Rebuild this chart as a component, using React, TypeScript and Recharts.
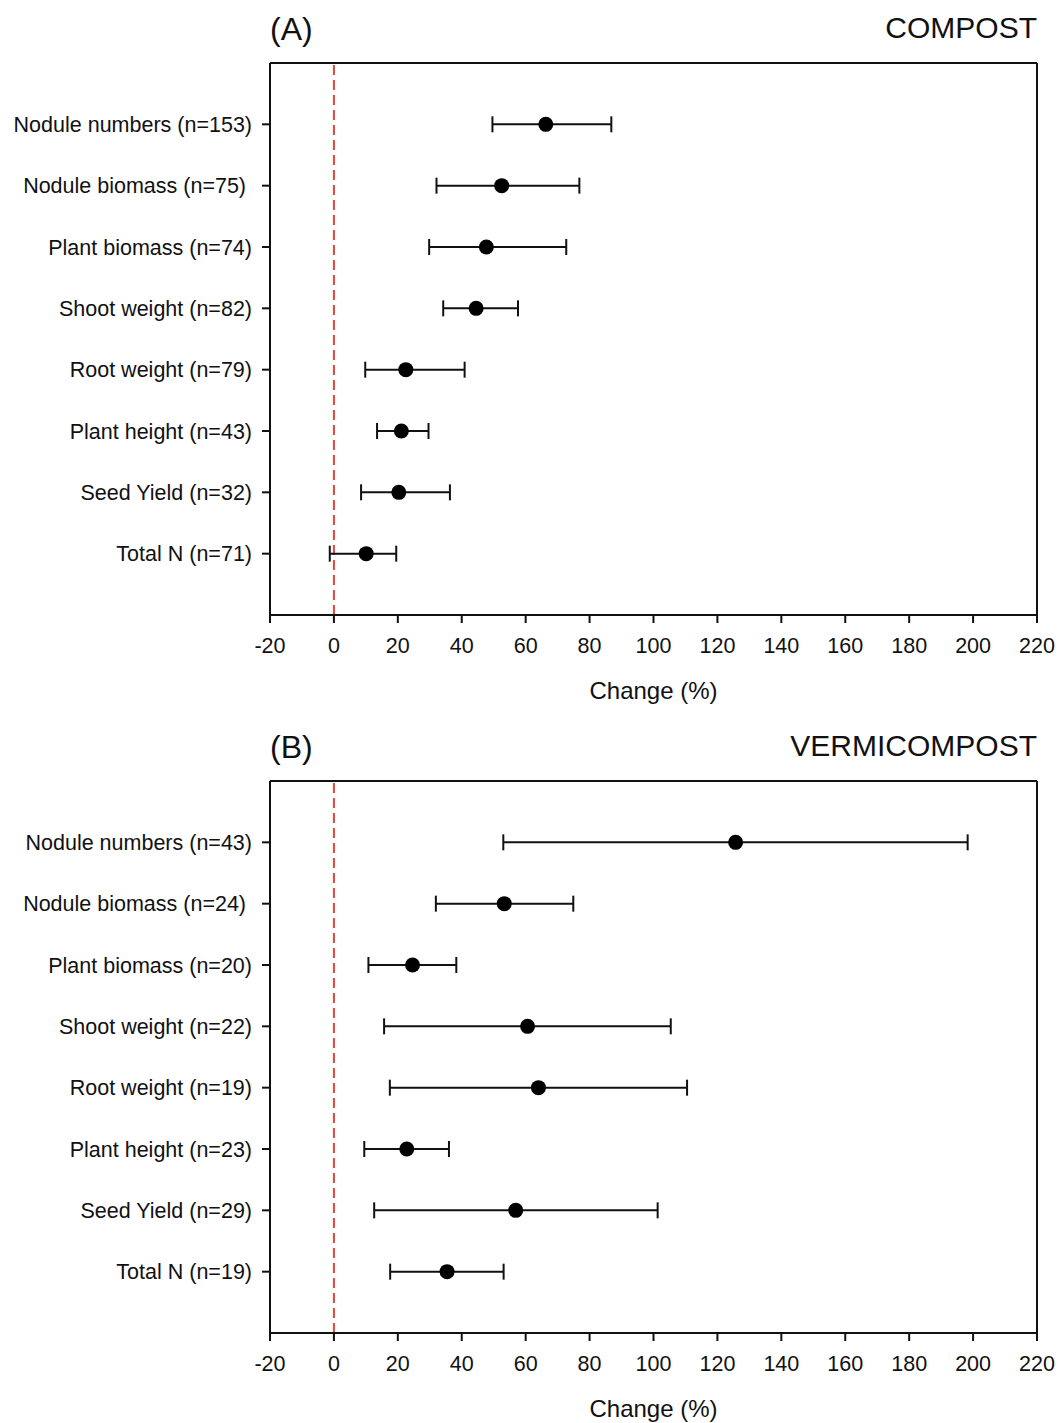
import { ComposedChart, Scatter, ErrorBar, XAxis, YAxis, ReferenceLine } from 'recharts';

const xTicks = [-20, 0, 20, 40, 60, 80, 100, 120, 140, 160, 180, 200, 220];
const rowPositions = [1, 2, 3, 4, 5, 6, 7, 8];

const categoriesA = [
  'Nodule numbers (n=153)',
  'Nodule biomass (n=75)\u00a0',
  'Plant biomass (n=74)',
  'Shoot weight (n=82)',
  'Root weight (n=79)',
  'Plant height (n=43)',
  'Seed Yield (n=32)',
  'Total N (n=71)',
];
const meanA = [66.3, 52.5, 47.7, 44.5, 22.5, 21.1, 20.3, 10.1];
const lowerA = [49.6, 32.1, 29.8, 34.2, 9.8, 13.5, 8.5, -1.3];
const upperA = [86.8, 76.8, 72.7, 57.6, 40.9, 29.6, 36.3, 19.5];

const categoriesB = [
  'Nodule numbers (n=43)',
  'Nodule biomass (n=24)\u00a0',
  'Plant biomass (n=20)',
  'Shoot weight (n=22)',
  'Root weight (n=19)',
  'Plant height (n=23)',
  'Seed Yield (n=29)',
  'Total N (n=19)',
];
const meanB = [125.7, 53.3, 24.6, 60.6, 64.0, 22.8, 56.9, 35.4];
const lowerB = [53.0, 31.9, 10.8, 15.7, 17.5, 9.5, 12.6, 17.6];
const upperB = [198.3, 74.9, 38.3, 105.4, 110.5, 36.0, 101.3, 53.1];

const FONT = '"Liberation Sans", Arial, sans-serif';
const W = 1059;
const H = 705;

function Dot(props: any) {
  const { cx, cy } = props;
  if (cx == null || cy == null) return null;
  return <circle cx={cx} cy={cy} r={7.5} fill="#000" />;
}

function Panel({ tag, title, cats, mean, lower, upper, top }: any) {
  const data = mean.map((m: number, i: number) => ({
    x: m,
    y: rowPositions[i],
    err: [m - lower[i], upper[i] - m],
  }));
  const tickStyle = { fill: '#111', fontSize: 21.5, fontFamily: FONT };
  return (
    <div style={{ position: 'absolute', left: 0, top, width: W, height: H }}>
      <div style={{ position: 'absolute', left: 270, top: 13, fontSize: 32, fontFamily: FONT, color: '#111', lineHeight: 1 }}>
        {tag}
      </div>
      <div style={{ position: 'absolute', right: 22, top: 13, fontSize: 30, fontFamily: FONT, color: '#111', lineHeight: 1 }}>
        {title}
      </div>
      <ComposedChart width={W} height={H} data={data} margin={{ top: 63, right: 22, bottom: 0, left: 0 }}>
        <XAxis
          type="number"
          dataKey="x"
          domain={[-20, 220]}
          ticks={xTicks}
          interval={0}
          allowDataOverflow
          stroke="#111"
          strokeWidth={2}
          tickSize={8}
          tickMargin={15}
          tick={tickStyle}
          height={90}
          label={{ value: 'Change (%)', position: 'insideBottom', offset: 6, fontSize: 24, fontFamily: FONT, fill: '#111' }}
        />
        <YAxis
          type="number"
          dataKey="y"
          domain={[0, 9]}
          reversed
          ticks={rowPositions}
          interval={0}
          tickFormatter={(v: number) => cats[v - 1] ?? ''}
          stroke="#111"
          strokeWidth={2}
          tickSize={8}
          tickMargin={10}
          tick={tickStyle}
          width={270}
        />
        <ReferenceLine y={0} stroke="#111" strokeWidth={2} />
        <ReferenceLine x={220} stroke="#111" strokeWidth={2} />
        <ReferenceLine x={0} stroke="#e0483e" strokeWidth={2} strokeDasharray="10 5" />
        <Scatter dataKey="x" shape={<Dot />} isAnimationActive={false}>
          <ErrorBar dataKey="err" direction="x" width={8} stroke="#111" strokeWidth={2} isAnimationActive={false} />
        </Scatter>
      </ComposedChart>
    </div>
  );
}

export default function App() {
  return (
    <div style={{ position: 'absolute', left: 0, top: 0, width: W, height: 1423, background: '#fff' }}>
      <Panel tag="(A)" title="COMPOST" cats={categoriesA} mean={meanA} lower={lowerA} upper={upperA} top={0} />
      <Panel tag="(B)" title="VERMICOMPOST" cats={categoriesB} mean={meanB} lower={lowerB} upper={upperB} top={718} />
    </div>
  );
}
